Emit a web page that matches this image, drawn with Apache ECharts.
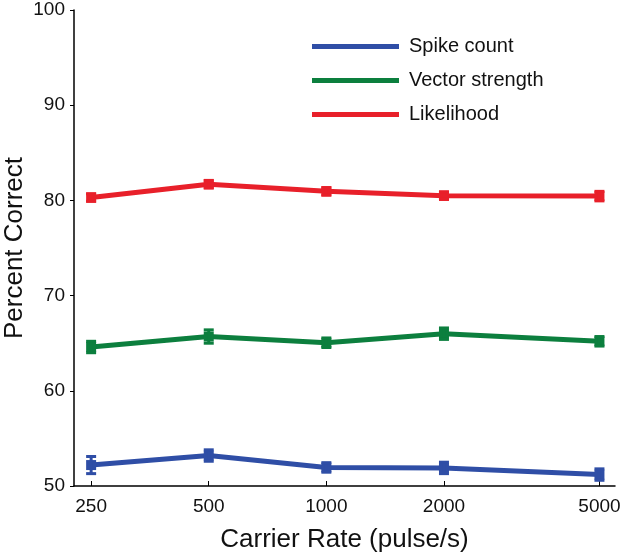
<!DOCTYPE html>
<html>
<head>
<meta charset="utf-8">
<script src="https://cdn.jsdelivr.net/npm/echarts@6/dist/echarts.min.js"></script>
<style>html,body{margin:0;padding:0;background:#fff}#c{width:624px;height:555px}</style>
</head>
<body>
<div id="c"></div>
<script>
const rates = [250, 500, 1000, 2000, 5000];
const spikeCount = [52.2, 53.2, 51.95, 51.9, 51.2];
const spikeErr = [0.9, 0.6, 0.5, 0.6, 0.6];
const vectorStrength = [64.6, 65.7, 65.05, 66.0, 65.2];
const vectorErr = [0.6, 0.7, 0.5, 0.6, 0.5];
const likelihood = [80.3, 81.7, 80.95, 80.5, 80.45];
const likelihoodErr = [0.4, 0.4, 0.4, 0.4, 0.5];
const yTicks = [50, 60, 70, 80, 90, 100];
const names = ['Spike count', 'Vector strength', 'Likelihood'];
const colors = ['#2f4ea6', '#0c7f3e', '#e8202a'];

const font = 'Liberation Sans, Arial, Helvetica, sans-serif';
const valsList = [spikeCount, vectorStrength, likelihood];
const errList = [spikeErr, vectorErr, likelihoodErr];

const series = [];
valsList.forEach((vals, i) => {
  series.push({
    name: names[i], type: 'line',
    data: rates.map((r, j) => [r, vals[j]]),
    lineStyle: { width: 5, color: colors[i] },
    itemStyle: { color: colors[i] },
    symbol: 'rect', symbolSize: 10, showSymbol: true,
    animation: false, z: 3
  });
  series.push({
    name: names[i] + ' err', type: 'custom',
    data: rates.map((r, j) => [r, vals[j] - errList[i][j], vals[j] + errList[i][j]]),
    renderItem: function (params, api) {
      const lo = api.coord([api.value(0), api.value(1)]);
      const hi = api.coord([api.value(0), api.value(2)]);
      const w = 5;
      const st = { stroke: colors[i], lineWidth: 3 };
      return { type: 'group', children: [
        { type: 'line', shape: { x1: lo[0], y1: lo[1], x2: hi[0], y2: hi[1] }, style: st },
        { type: 'line', shape: { x1: lo[0] - w, y1: lo[1], x2: lo[0] + w, y2: lo[1] }, style: st },
        { type: 'line', shape: { x1: hi[0] - w, y1: hi[1], x2: hi[0] + w, y2: hi[1] }, style: st }
      ]};
    },
    animation: false, z: 4
  });
});

const chart = echarts.init(document.getElementById('c'), null, { renderer: 'canvas' });
chart.setOption({
  backgroundColor: '#fff',
  animation: false,
  grid: { left: 74, right: 9, top: 10, bottom: 69, containLabel: false, outerBoundsMode: 'none' },
  legend: {
    data: names,
    orient: 'vertical', left: 307, top: 31,
    icon: 'rect', itemWidth: 87, itemHeight: 5, itemGap: 13,
    textStyle: { fontFamily: font, fontSize: 20, lineHeight: 21, color: '#111', padding: [0, 0, 0, 5] }
  },
  xAxis: {
    type: 'log', logBase: 2, min: 226, max: 5480,
    name: 'Carrier Rate (pulse/s)', nameLocation: 'middle', nameGap: 41, nameMoveOverlap: false,
    nameTextStyle: { fontFamily: font, fontSize: 26, color: '#111' },
    axisLine: { lineStyle: { color: '#000', width: 1.5 } },
    axisTick: { inside: true, length: 5, customValues: rates, lineStyle: { color: '#000' } },
    axisLabel: { customValues: rates, fontFamily: font, fontSize: 19, color: '#111', margin: 11, formatter: v => String(Math.round(v)) },
    splitLine: { show: false }
  },
  yAxis: {
    type: 'value', min: 50, max: 100, interval: 10,
    name: 'Percent Correct', nameLocation: 'middle', nameGap: 46, nameMoveOverlap: false,
    nameTextStyle: { fontFamily: font, fontSize: 26, color: '#111' },
    axisLine: { show: true, lineStyle: { color: '#000', width: 1.5 } },
    axisTick: { show: true, inside: false, length: 4, customValues: yTicks, lineStyle: { color: '#000' } },
    axisLabel: { customValues: yTicks, fontFamily: font, fontSize: 19, color: '#111', margin: 9 },
    splitLine: { show: false }
  },
  series: series
});
</script>
</body>
</html>
